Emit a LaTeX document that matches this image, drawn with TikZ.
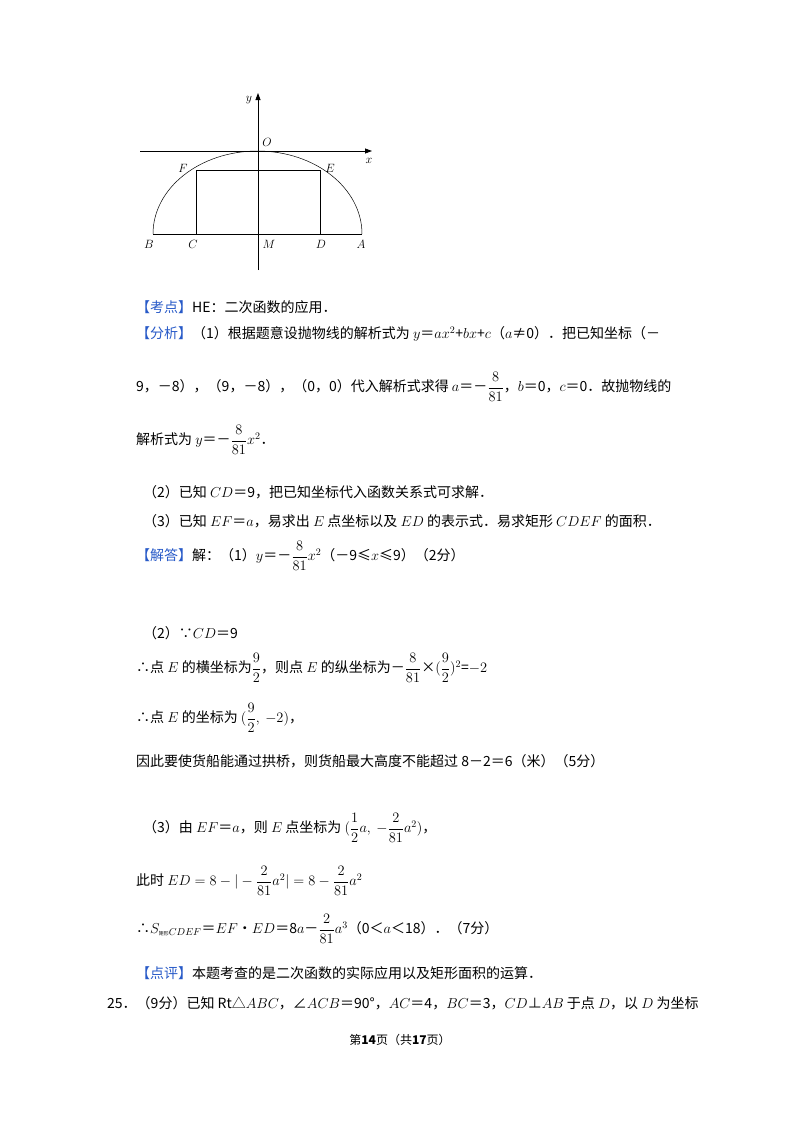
\documentclass[tikz,border=0pt]{standalone}
\usepackage{amsmath}
\usepackage{fontspec}
\setmainfont{Noto Sans CJK SC}
\usetikzlibrary{arrows.meta}
\definecolor{kb}{RGB}{40,90,200}
\tikzset{t/.style={anchor=west,inner sep=0pt,font=\fontsize{14}{17}\selectfont},
lbl/.style={font=\fontsize{12}{14}\selectfont,inner sep=1pt},
fig/.style={line width=0.8pt}}
\newcommand{\kw}[1]{\textcolor{kb}{【#1】}}
\newcommand{\fr}[2]{\ensuremath{\dfrac{#1}{#2}}}
\begin{document}
\begin{tikzpicture}[x=1pt,y=-1pt]
\useasboundingbox (0,0) rectangle (800,1132);
\fill[white] (0,0) rectangle (800,1132);
% figure
\coordinate (B) at (153,234); \coordinate (A) at (362,234);
\coordinate (O) at (258,151);
\draw[fig,-{Triangle[length=7pt,width=5pt]}] (140,151) -- (372,151) coordinate (xe);
\draw[fig,-{Triangle[length=7pt,width=5pt]}] (258,270) -- (258,93) coordinate (ye);
\draw[line width=0.5pt] (B) arc[start angle=180,end angle=360,x radius=104.5,y radius=83];
\draw[fig] (B) -- (A);
\draw[line width=0.6pt] (196,234) coordinate (C) -- (196,170) coordinate (F) -- (320,170) coordinate (E) -- (320,234) coordinate (D);
\node[lbl] at (249,100) {$y$};
\node[lbl] at (369,161) {$x$};
\node[lbl] at (267,142) {$O$};
\node[lbl] at (183,168) {$F$};
\node[lbl] at (330,168) {$E$};
\node[lbl] at (149,244) {$B$};
\node[lbl] at (193,244) {$C$};
\node[lbl] at (269,244) {$M$};
\node[lbl] at (321,244) {$D$};
\node[lbl] at (361,244) {$A$};
% text
\node[t] at (136,307) {\kw{考点}HE：二次函数的应用．};
\node[t] at (136,334) {\kw{分析}（1）根据题意设抛物线的解析式为 $y$＝$ax^2$+$bx$+$c$（$a$≠0）．把已知坐标（－};
\node[t] at (136,387) {9，－8），（9，－8），（0，0）代入解析式求得 $a$＝－\fr{8}{81}，$b$＝0，$c$＝0．故抛物线的};
\node[t] at (136,440) {解析式为 $y$＝－\fr{8}{81}$x^2$．};
\node[t] at (143,492) {（2）已知 $CD$＝9，把已知坐标代入函数关系式可求解．};
\node[t] at (143,521) {（3）已知 $EF$＝$a$，易求出 $E$ 点坐标以及 $ED$ 的表示式．易求矩形 $CDEF$ 的面积．};
\node[t] at (136,556) {\kw{解答}解：（1）$y$＝－\fr{8}{81}$x^2$（－9≤$x$≤9）（2分）};
\node[t] at (143,633) {（2）∵$CD$＝9};
\node[t] at (136,668) {∴点 $E$ 的横坐标为\fr{9}{2}，则点 $E$ 的纵坐标为－\fr{8}{81}×$(\dfrac{9}{2})^2$=$-2$};
\node[t] at (136,718) {∴点 $E$ 的坐标为 $(\dfrac{9}{2},\ -2)$，};
\node[t] at (136,761) {因此要使货船能通过拱桥，则货船最大高度不能超过 8－2＝6（米）（5分）};
\node[t] at (143,828) {（3）由 $EF$＝$a$，则 $E$ 点坐标为 $(\dfrac{1}{2}a,\ -\dfrac{2}{81}a^2)$，};
\node[t] at (136,881) {此时 $ED=8-|-\dfrac{2}{81}a^2|=8-\dfrac{2}{81}a^2$};
\node[t] at (136,929) {∴$S_{\text{\tiny 矩形}CDEF}$＝$EF$•$ED$＝8$a$－\fr{2}{81}$a^3$（0＜$a$＜18）．（7分）};
\node[t] at (136,973) {\kw{点评}本题考查的是二次函数的实际应用以及矩形面积的运算．};
\node[t] at (107,1003) {25．（9分）已知 Rt△$ABC$，∠$ACB$＝90°，$AC$＝4，$BC$＝3，$CD$⊥$AB$ 于点 $D$，以 $D$ 为坐标};
\node[font=\fontsize{12}{14}\selectfont] at (400,1040) {第\textbf{14}页（共\textbf{17}页）};
\end{tikzpicture}
\end{document}
